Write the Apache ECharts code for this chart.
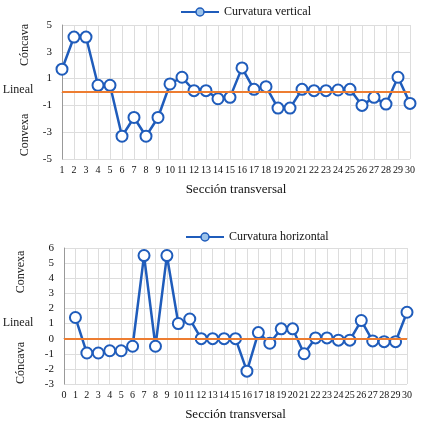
<!DOCTYPE html>
<html><head><meta charset="utf-8">
<script src="https://cdn.jsdelivr.net/npm/echarts@6/dist/echarts.min.js"></script>
<style>html,body{margin:0;padding:0;background:#fff}#c{width:425px;height:422px}</style>
</head><body><div id="c"></div>
<script>
var catsV = ['1','2','3','4','5','6','7','8','9','10','11','12','13','14','15','16','17','18','19','20','21','22','23','24','25','26','27','28','29','30'];
var valsV = [1.7,4.1,4.1,0.5,0.5,-3.3,-1.9,-3.3,-1.9,0.6,1.1,0.1,0.1,-0.5,-0.4,1.8,0.2,0.4,-1.2,-1.2,0.2,0.1,0.1,0.15,0.2,-1.0,-0.4,-0.9,1.1,-0.85];
var catsH = ['0','1','2','3','4','5','6','7','8','9','10','11','12','13','14','15','16','17','18','19','20','21','22','23','24','25','26','27','28','29','30'];
var valsH = [null,1.4,-0.95,-0.95,-0.8,-0.8,-0.5,5.5,-0.5,5.5,1.0,1.3,0,0,0,0,-2.15,0.4,-0.3,0.65,0.65,-1.0,0.05,0.05,-0.1,-0.1,1.2,-0.15,-0.2,-0.2,1.75];
var nameV = 'Curvatura vertical';
var nameH = 'Curvatura horizontal';
var xTitle = 'Sección transversal';

var FONT = 'Liberation Serif';
var BLUE = '#1f5cbb';
var ORANGE = '#ed7d31';
var chart = echarts.init(document.getElementById('c'));
function xAx(idx, cats){
  return {type:'category', gridIndex:idx, data:cats, boundaryGap:false,
    name:xTitle, nameLocation:'middle', nameGap:24,
    nameTextStyle:{fontFamily:FONT,fontSize:13,color:'#111'},
    axisLine:{lineStyle:{color:'#999'}}, axisTick:{show:false},
    axisLabel:{interval:0,fontFamily:FONT,fontSize:10,color:'#111',margin:6},
    splitLine:{show:true,lineStyle:{color:'#ddd'}}};
}
function yAx(idx,min,max,step){
  return {type:'value', gridIndex:idx, min:min, max:max, interval:step,
    axisLine:{show:true,lineStyle:{color:'#999'}}, axisTick:{show:false},
    axisLabel:{fontFamily:FONT,fontSize:11,color:'#111',margin:10},
    splitLine:{show:true,lineStyle:{color:'#ddd'}}};
}
function ser(idx,name,vals){
  return {type:'line', name:name, xAxisIndex:idx, yAxisIndex:idx, data:vals,
    symbol:'circle', symbolSize:11, connectNulls:false,
    lineStyle:{color:BLUE,width:2.5},
    itemStyle:{color:'#fff',borderColor:BLUE,borderWidth:2},
    markLine:{silent:true,symbol:'none',label:{show:false},
      lineStyle:{color:ORANGE,width:2,type:'solid'},data:[{yAxis:0}]},
    z:3};
}
var sideText = {fontFamily:FONT,fontSize:12,fill:'#222'};
chart.setOption({
  animation:false,
  grid:[{left:62,right:15,top:25,height:134},{left:64,right:18,top:248,height:136}],
  legend:[
    {data:[{name:nameV,itemStyle:{color:'#9cc3ea',borderColor:BLUE,borderWidth:1.5}}],left:175,top:1,itemWidth:38,itemHeight:10,itemGap:4,textStyle:{fontFamily:FONT,fontSize:12,color:'#111'}},
    {data:[{name:nameH,itemStyle:{color:'#9cc3ea',borderColor:BLUE,borderWidth:1.5}}],left:180,top:226,itemWidth:38,itemHeight:10,itemGap:4,textStyle:{fontFamily:FONT,fontSize:12,color:'#111'}}
  ],
  xAxis:[xAx(0,catsV),xAx(1,catsH)],
  yAxis:[yAx(0,-5,5,2),yAx(1,-3,6,1)],
  series:[ser(0,nameV,valsV),ser(1,nameH,valsH)],
  graphic:[
    {type:'text',x:25,y:45,rotation:Math.PI/2,style:Object.assign({text:'Cóncava',align:'center',verticalAlign:'middle'},sideText)},
    {type:'text',x:18,y:90,style:Object.assign({text:'Lineal',align:'center',verticalAlign:'middle'},sideText)},
    {type:'text',x:25,y:135,rotation:Math.PI/2,style:Object.assign({text:'Convexa',align:'center',verticalAlign:'middle'},sideText)},
    {type:'text',x:21,y:272,rotation:Math.PI/2,style:Object.assign({text:'Convexa',align:'center',verticalAlign:'middle'},sideText)},
    {type:'text',x:18,y:323,style:Object.assign({text:'Lineal',align:'center',verticalAlign:'middle'},sideText)},
    {type:'text',x:21,y:363,rotation:Math.PI/2,style:Object.assign({text:'Cóncava',align:'center',verticalAlign:'middle'},sideText)}
  ]
});
</script></body></html>
